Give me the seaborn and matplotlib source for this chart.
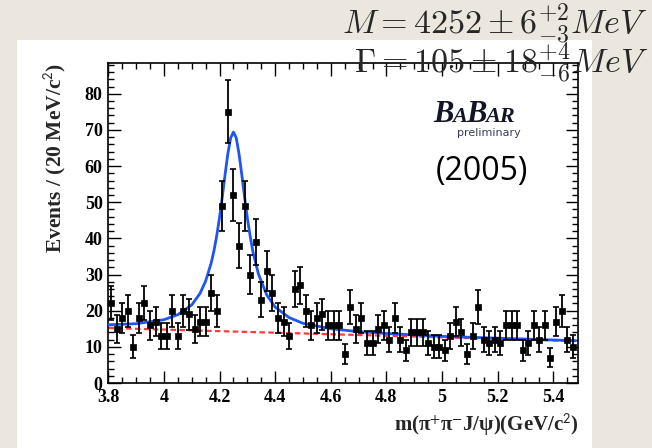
import numpy as np
import pandas as pd
import matplotlib
matplotlib.use("Agg")
import matplotlib.pyplot as plt
import seaborn as sns
from matplotlib.ticker import MultipleLocator
from matplotlib.patches import Rectangle

# ---------------- data ----------------
# 20 MeV bins starting at 3.80 GeV; bin centres
bin_centers = np.round(np.arange(84) * 0.02 + 3.81, 2)
counts = [22, 15, 18, 20, 10, 18, 22, 16, 17, 13,
          13, 20, 13, 20, 19, 15, 17, 17, 25, 20,
          49, 75, 52, 38, 49, 30, 39, 23, 31, 25,
          18, 17, 13, 26, 27, 20, 16, 18, 19, 16,
          16, 16, 8, 21, 15, 18, 11, 11, 15, 16,
          12, 18, 12, 9, 14, 14, 14, 11, 10, 10,
          9, 13, 17, 14, 8, 13, 21, 12, 11, 12,
          11, 16, 16, 16, 9, 11, 16, 12, 16, 7,
          17, 20, 12, 10]
errors = np.sqrt(counts)  # Poisson errors shown as error bars

# fitted curve (signal + background)
fit_x = [3.80, 3.90, 4.00, 4.05, 4.10, 4.13, 4.15, 4.17, 4.18, 4.19, 4.20,
         4.21, 4.22, 4.23, 4.24, 4.25, 4.26, 4.27, 4.28, 4.29, 4.30, 4.31,
         4.32, 4.34, 4.37, 4.40, 4.45, 4.50, 4.60, 4.70, 4.80, 5.00, 5.20, 5.48]
fit_y = [16.1, 16.4, 17.5, 18.9, 21.6, 24.8, 28.2, 33.2, 36.6, 40.8, 45.8,
         51.5, 57.7, 63.5, 67.8, 69.4, 67.8, 63.4, 57.6, 51.4, 45.6, 40.7,
         36.3, 30.1, 24.3, 21.0, 18.1, 16.5, 15.0, 14.2, 13.7, 12.9, 12.4, 11.7]
# background only
bkg_x = [3.80, 5.48]
bkg_y = [15.2, 11.6]

y_ticks = [0, 10, 20, 30, 40, 50, 60, 70, 80]
x_ticks = [3.8, 4.0, 4.2, 4.4, 4.6, 4.8, 5.0, 5.2, 5.4]
x_tick_labels = ["3.8", "4", "4.2", "4.4", "4.6", "4.8", "5", "5.2", "5.4"]

logo_parts = ["B", "A", "B", "AR"]
logo_sizes = [22, 16, 22, 16]

# ---------------- figure ----------------
sns.set_theme(style="ticks")
plt.rcParams["font.family"] = ["Liberation Serif", "DejaVu Serif"]

W, H = 652, 448
fig = plt.figure(figsize=(W / 100, H / 100), dpi=100, facecolor="#ebe7df")
fig.patches.append(Rectangle((17 / W, 0), (592 - 17) / W, (H - 40) / H,
                             transform=fig.transFigure, facecolor="white",
                             edgecolor="none", zorder=-5))

ax = fig.add_axes([108.3 / W, 1 - 383 / H, 470 / W, 320 / H])
ax.set_facecolor("white")

df = pd.DataFrame({"mass": bin_centers, "events": counts, "err": errors})
fit_df = pd.DataFrame({"mass": fit_x, "events": fit_y})
bkg_df = pd.DataFrame({"mass": bkg_x, "events": bkg_y})

sns.lineplot(data=bkg_df, x="mass", y="events", ax=ax, color="#ff3b3b",
             lw=1.6, linestyle=(0, (2.5, 1.5)), zorder=2)
sns.lineplot(data=fit_df, x="mass", y="events", ax=ax, color="#1f55f0",
             lw=2.0, zorder=3)
ax.errorbar(df["mass"], df["events"], yerr=df["err"], fmt="none",
            ecolor="black", elinewidth=1.3, capsize=2.2, capthick=1.2, zorder=4)
sns.scatterplot(data=df, x="mass", y="events", ax=ax, marker="s", s=20,
                color="black", edgecolor="black", linewidth=0.5, zorder=5)

ax.set_xlim(3.8, 5.49)
ax.set_ylim(0, 88.5)
ax.set_xticks(x_ticks)
ax.set_xticklabels(x_tick_labels)
ax.set_yticks(y_ticks)
ax.xaxis.set_minor_locator(MultipleLocator(0.05))
ax.yaxis.set_minor_locator(MultipleLocator(2))
ax.tick_params(which="both", direction="in", top=True, right=True,
               colors="black", width=1.0)
ax.tick_params(which="major", length=9, labelsize=13, pad=4)
ax.tick_params(which="minor", length=4.5)
for lab in ax.get_xticklabels() + ax.get_yticklabels():
    lab.set_fontweight("bold")
for s in ax.spines.values():
    s.set_linewidth(1.2)
    s.set_color("black")

ax.set_xlabel("m(π$^{+}$π$^{-}$J/ψ)(GeV/c$^{2}$)", loc="right", fontsize=15,
              fontweight="bold", math_fontfamily="stixsans")
ax.xaxis.set_label_coords(1.0, -(412 - 383) / 320)
ax.set_ylabel("Events / (20 MeV/c$^{2}$)", loc="top", fontsize=15.5,
              fontweight="bold", math_fontfamily="stixsans")
ax.yaxis.set_label_coords(-(108.3 - 68) / 470, 1.0)

# BABAR logo (small caps built from pieces on a common baseline)
renderer = fig.canvas.get_renderer()
x_px = 433.0
for part, size in zip(logo_parts, logo_sizes):
    t = fig.text(x_px / W, 1 - 122 / H, part, fontsize=size, fontweight="bold",
                 style="italic", color="#141428", va="baseline", ha="left")
    bb = t.get_window_extent(renderer=renderer)
    x_px = bb.x1 - 1.0
fig.text(521 / W, 1 - 133 / H, "preliminary", fontsize=8, family="DejaVu Sans",
         color="#3c3c5a", ha="right", va="center")
fig.text(482 / W, 1 - 171 / H, "(2005)", fontsize=23, family="Open Sans",
         color="black", ha="center", va="center")

# overlay fit results
fig.text(648 / W, 1 - 34 / H, r"$M = 4252 \pm 6^{+2}_{-3} MeV$", fontsize=24.5,
         math_fontfamily="cm", ha="right", va="baseline", zorder=10)
fig.text(648 / W, 1 - 73 / H, r"$\Gamma = 105 \pm 18^{+4}_{-6} MeV$", fontsize=24.5,
         math_fontfamily="cm", ha="right", va="baseline", zorder=10)

fig.savefig("out.png", dpi=100, facecolor=fig.get_facecolor())
